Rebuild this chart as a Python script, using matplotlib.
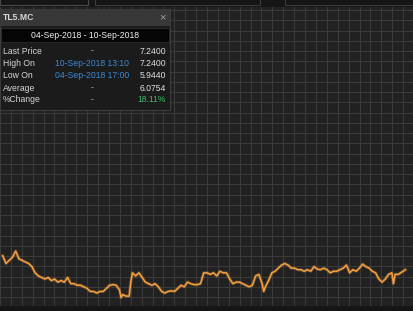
import matplotlib

matplotlib.use("Agg")
import matplotlib.pyplot as plt
import numpy as np
from matplotlib.patches import Rectangle

W, H = 414, 311

# price trace (x = time step, y = price)
TIMES = [
    0, 10, 20, 30, 40, 50, 60, 70, 80, 90, 100, 110, 120, 130, 140, 150, 160, 170, 180,
    190, 200, 210, 220, 230, 240, 250, 260, 270, 280, 290, 300, 310, 320, 330, 340, 350,
    360, 365, 370, 380, 390, 395, 400, 410, 420, 430, 440, 450, 460, 470, 480, 490, 500,
    510, 520, 530, 540, 550, 560, 570, 580, 590, 600, 610, 620, 630, 640, 650, 660, 670,
    680, 690, 700, 710, 720, 730, 740, 750, 760, 770, 780, 790, 800, 805, 810, 820, 830,
    840, 850, 860, 870, 880, 890, 900, 910, 920, 930, 940, 950, 960, 970, 980, 990, 1000,
    1010, 1020, 1030, 1040, 1050, 1060, 1070, 1080, 1090, 1100, 1110, 1120, 1130, 1140,
    1150, 1160, 1170, 1180, 1190, 1200, 1205, 1210, 1220, 1230, 1242,
]
PRICES = [
    6.1025, 6.065, 6.08, 6.095, 6.125, 6.0875, 6.08, 6.0725, 6.065, 6.05, 6.02, 6.005,
    5.9975, 5.99, 5.9975, 5.9825, 5.99, 5.975, 5.9825, 5.975, 5.9975, 5.9675, 5.9675,
    5.96, 5.96, 5.9525, 5.945, 5.93, 5.93, 5.9225, 5.93, 5.93, 5.945, 5.96, 5.963, 5.96,
    5.9375, 5.90, 5.915, 5.9075, 5.9075, 5.975, 6.02, 6.005, 6.02, 5.9975, 5.975, 5.9675,
    5.96, 5.9675, 5.9525, 5.93, 5.9225, 5.93, 5.933, 5.93, 5.945, 5.96, 5.9525, 5.975,
    5.9675, 5.963, 5.963, 5.9675, 6.02, 6.02, 6.0125, 6.02, 6.005, 6.0275, 6.02, 6.02,
    5.99, 5.9675, 5.975, 5.975, 5.9675, 5.96, 5.9525, 5.96, 6.005, 6.0125, 5.9675, 5.93,
    5.9525, 5.9825, 6.02, 6.0275, 6.0425, 6.0575, 6.065, 6.0575, 6.0425, 6.0425, 6.035,
    6.035, 6.0275, 6.035, 6.0275, 6.05, 6.038, 6.035, 6.0425, 6.035, 6.02, 6.0275,
    6.0275, 6.035, 6.0425, 6.0575, 6.02, 6.035, 6.0275, 6.0425, 6.062, 6.05, 6.0425,
    6.0275, 6.02, 5.99, 5.975, 5.99, 6.0125, 6.02, 5.9675, 6.0125, 6.0125, 6.023, 6.035,
]

TICKER = "TL5.MC"
DATE_RANGE = "04-Sep-2018 - 10-Sep-2018"
ROW_LABELS = ["Last Price", "High On", "Low On", "Average", "%Change"]
ROW_WHEN = ["-", "10-Sep-2018 13:10", "04-Sep-2018 17:00", "-", "-"]
ROW_VALUES = ["7.2400", "7.2400", "5.9440", "6.0754", "18.11%"]

BG = "#212121"
GRID = "#3a3a3a"
LINE = "#f5a040"
BLUE = "#3b8ad6"
GREEN = "#3dba6a"
FONT = ["Liberation Sans", "DejaVu Sans"]


def fx(x):
    return x / W


def fy(y):
    return 1 - y / H


def add_rect(fig, x0, y0, x1, y1, **kwargs):
    fig.patches.append(
        Rectangle((fx(x0), fy(y1)), fx(x1 - x0), (y1 - y0) / H, transform=fig.transFigure, **kwargs)
    )


def add_text(fig, x, y, s, **kwargs):
    kw = dict(fontsize=6.2, color="#e6e6e6", va="center", family=FONT)
    kw.update(kwargs)
    fig.text(fx(x), fy(y), s, **kw)


def plot_price(ax):
    ax.set_facecolor(BG)
    ax.set_xlim(0, 1242)
    ax.set_ylim(5.8355, 7.235)
    # grid every ~11 px
    ax.set_xticks(25.2 + 33.6 * np.arange(-1, 38))
    ax.set_yticks(5.903 + 0.0495 * np.arange(-1, 30))
    ax.grid(True, color=GRID, linewidth=0.8)
    ax.tick_params(length=0, labelbottom=False, labelleft=False)
    for sp in ax.spines.values():
        sp.set_visible(False)
    ax.plot(TIMES, PRICES, color=LINE, linewidth=2.4, alpha=0.25, solid_joinstyle="round")
    ax.plot(TIMES, PRICES, color=LINE, linewidth=1.1, solid_joinstyle="round")


def plot_frame(fig):
    # toolbar strip on top, darker band at the bottom
    add_rect(fig, 0, 0, W, 7, facecolor="#151515", edgecolor="none")
    add_rect(fig, 0, -2, 88, 5, facecolor="none", edgecolor="#4a4a4a", linewidth=0.8)
    add_rect(fig, 95, -2, 260, 5, facecolor="none", edgecolor="#3a3a3a", linewidth=0.8)
    add_rect(fig, 285, -2, 414, 5, facecolor="none", edgecolor="#3a3a3a", linewidth=0.8)
    add_rect(fig, 0, 306, W, H, facecolor="#161616", edgecolor="none")


def plot_info_box(fig):
    add_rect(fig, 0, 9, 170, 110, facecolor="#1b1b1b", edgecolor="#3c3c3c", linewidth=0.8)
    add_rect(fig, 0, 9, 170, 26, facecolor="#383838", edgecolor="none")
    add_rect(fig, 1, 28, 169, 42, facecolor="#050505", edgecolor="#2e2e2e", linewidth=0.6)
    add_text(fig, 3, 17.5, TICKER, fontweight="bold", color="#d8d8d8")
    add_text(fig, 162, 17.5, "×", ha="center", fontsize=8, color="#a0a0a0")
    add_text(fig, 85, 35, DATE_RANGE, ha="center", color="#f0f0f0")

    row_y = [51, 63, 75, 88, 100]
    for i, y in enumerate(row_y):
        add_text(fig, 3, y, ROW_LABELS[i], color="#d6d6d6")
        when_color = BLUE if ROW_WHEN[i] != "-" else "#bdbdbd"
        add_text(fig, 92, y, ROW_WHEN[i], ha="center", color=when_color)
        val_color = GREEN if ROW_VALUES[i].endswith("%") else "#e0e0e0"
        add_text(fig, 166, y, ROW_VALUES[i], ha="right", color=val_color)


def main():
    fig = plt.figure(figsize=(W / 100, H / 100), dpi=100, facecolor=BG)
    ax = fig.add_axes([0, 0, 1, 1])
    plot_price(ax)
    plot_frame(fig)
    plot_info_box(fig)
    fig.savefig("out.png", dpi=100, facecolor=BG)


if __name__ == "__main__":
    main()
